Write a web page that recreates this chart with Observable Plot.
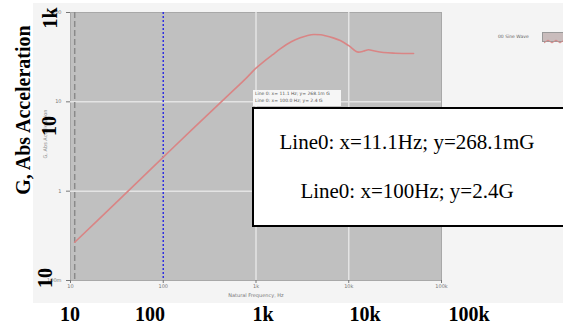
<!DOCTYPE html>
<html>
<head>
<meta charset="utf-8">
<script src="https://cdn.jsdelivr.net/npm/d3@7"></script>
<script src="https://cdn.jsdelivr.net/npm/@observablehq/plot@0.6"></script>
<style>
  html, body { margin: 0; padding: 0; background: #fff; }
  #wrap { position: relative; width: 563px; height: 325px; overflow: hidden; background: #fff; }
  #panel { position: absolute; left: 33px; top: 3px; width: 530px; height: 300px; background: #f4f4f4; }
  #chart { position: absolute; left: 0; top: 0; }
  .big { position: absolute; font-family: "Liberation Serif", "Times New Roman", serif; font-weight: bold; font-size: 20px; color: #000; white-space: nowrap; line-height: 1; }
  .rot { transform: translate(-50%, -50%) rotate(-90deg); }
  .hc { transform: translate(-50%, -50%); }
  #note { position: absolute; left: 252px; top: 107px; width: 320px; height: 120px; background: #fff; border: 2px solid #000; box-sizing: border-box; }
  .noteText { position: absolute; left: 407px; transform: translate(-50%, -50%); font-family: "Liberation Serif", "Times New Roman", serif; font-size: 21px; color: #000; white-space: nowrap; }
  #tip { position: absolute; left: 253px; top: 90px; width: 88px; height: 16px; background: #f6f6f6; font-family: "DejaVu Sans", sans-serif; font-size: 4.5px; color: #555; line-height: 7px; padding-left: 2px; box-sizing: border-box; }
  #legend { position: absolute; left: 498px; top: 34px; font-family: "DejaVu Sans", sans-serif; font-size: 4.5px; color: #666; white-space: nowrap; }
  #swatch { position: absolute; left: 542px; top: 32px; width: 24px; height: 10px; background: #c9bcbc; border: 1px solid #999; box-sizing: border-box; }
</style>
</head>
<body>
<div id="wrap">
  <div id="panel"></div>
  <div id="chart"></div>
</div>
<script>
// ---- data ----
const freqHz = [11.1, 20, 50, 100, 200, 500, 800, 1000, 1250, 1500, 1840, 2400, 3000, 3600, 4200, 5000, 5600, 6800, 8100, 10000, 12700, 14500, 16300, 19000, 23700, 31800, 50000];
const accelG = [0.268, 0.48, 1.2, 2.4, 4.8, 11.8, 18.8, 23.8, 29.0, 33.5, 39.5, 47.0, 52.0, 55.3, 56.7, 56.3, 55.0, 52.0, 48.5, 42.5, 36.0, 37.0, 38.3, 37.0, 35.6, 35.0, 34.7];

const cursorFreqs = [11.1, 100];
const cursorVals = [0.2681, 2.4];

const xTicks = [10, 100, 1000, 10000, 100000];
const xTickLabels = ["10", "100", "1k", "10k", "100k"];
const yTicks = [100, 10, 1, 0.1];
const yTickLabels = ["100", "10", "1", "100m"];
const gridY = [1, 10];
const gridX = [1000, 10000];

const seriesName = "00 Sine Wave";
const xLabel = "Natural Frequency, Hz";
const yLabel = "G, Abs Acceleration";

const bigBottomLabels = ["10", "100", "1k", "10k", "100k"];
const bigLeftLabels = ["1k", "10", "10"];
const bigYTitle = "G, Abs Acceleration";
const noteLines = ["Line0: x=11.1Hz; y=268.1mG", "Line0: x=100Hz; y=2.4G"];
const tipLines = ["Line 0: x= 11.1 Hz; y= 268.1m G", "Line 0: x= 100.0 Hz; y= 2.4 G"];

// ---- build ----
const data = freqHz.map((f, i) => ({f, g: accelG[i]}));
const xFmt = new Map(xTicks.map((t, i) => [t, xTickLabels[i]]));
const yFmt = new Map(yTicks.map((t, i) => [t, yTickLabels[i]]));

const chart = Plot.plot({
  width: 563,
  height: 325,
  marginLeft: 70,
  marginRight: 122,
  marginTop: 12,
  marginBottom: 45,
  style: {background: "transparent", fontFamily: "DejaVu Sans, sans-serif"},
  x: {type: "log", domain: [10, 100000]},
  y: {type: "log", domain: [0.1, 100]},
  marks: [
    Plot.frame({fill: "#c0c0c0", stroke: "#a8a8a8", strokeWidth: 1}),
    Plot.ruleY(gridY, {stroke: "#e4e4e4", strokeWidth: 1.5}),
    Plot.ruleX(gridX, {stroke: "#e4e4e4", strokeWidth: 1.5}),
    Plot.axisX({ticks: xTicks, tickFormat: d => xFmt.get(d), fontSize: 5, color: "#777", tickSize: 3, tickPadding: 1, label: null}),
    Plot.axisY({ticks: yTicks, tickFormat: d => yFmt.get(d), fontSize: 5, color: "#777", tickSize: 4, label: null}),
    Plot.text([xLabel], {x: 1000, frameAnchor: "bottom", dy: 13, fontSize: 5, fill: "#777", lineAnchor: "top"}),
    Plot.text([yLabel], {frameAnchor: "left", dx: -25, dy: 12, rotate: -90, fontSize: 5, fill: "#888"}),
    Plot.ruleX([cursorFreqs[0]], {stroke: "#8a8a8a", strokeWidth: 1.5, strokeDasharray: "6,3"}),
    Plot.ruleX([cursorFreqs[1]], {stroke: "#3030e0", strokeWidth: 1.5, strokeDasharray: "2,2"}),
    Plot.line(data, {x: "f", y: "g", stroke: "#d98585", strokeWidth: 1.6, curve: "monotone-x"})
  ]
});
document.getElementById("chart").appendChild(chart);

const wrap = document.getElementById("wrap");
function add(html, cls, style) {
  const el = document.createElement("div");
  el.className = cls;
  el.textContent = html;
  Object.assign(el.style, style);
  wrap.appendChild(el);
  return el;
}

// small tooltip and legend (original screenshot)
const tip = document.createElement("div");
tip.id = "tip";
tip.innerHTML = tipLines.join("<br>");
wrap.appendChild(tip);
const leg = document.createElement("div");
leg.id = "legend";
leg.textContent = seriesName;
wrap.appendChild(leg);
const sw = document.createElement("div");
sw.id = "swatch";
sw.innerHTML = '<svg width="24" height="10"><polyline points="1,6 5,3 9,6 13,3 17,6 21,3" fill="none" stroke="#d98585" stroke-width="1"/></svg>';
wrap.appendChild(sw);

// annotation box
const note = document.createElement("div");
note.id = "note";
wrap.appendChild(note);
const noteY = [142, 191];
noteLines.forEach((t, i) => add(t, "noteText", {top: noteY[i] + "px"}));

// overlaid bold labels
const bigBottomX = [70, 150, 263, 365, 469];
bigBottomLabels.forEach((t, i) => add(t, "big hc", {left: bigBottomX[i] + "px", top: "314px"}));
const bigLeftPos = [[50, 18], [49, 126], [45, 278]];
bigLeftLabels.forEach((t, i) => add(t, "big rot", {left: bigLeftPos[i][0] + "px", top: bigLeftPos[i][1] + "px"}));
add(bigYTitle, "big rot", {left: "23px", top: "110px"});
</script>
</body>
</html>
